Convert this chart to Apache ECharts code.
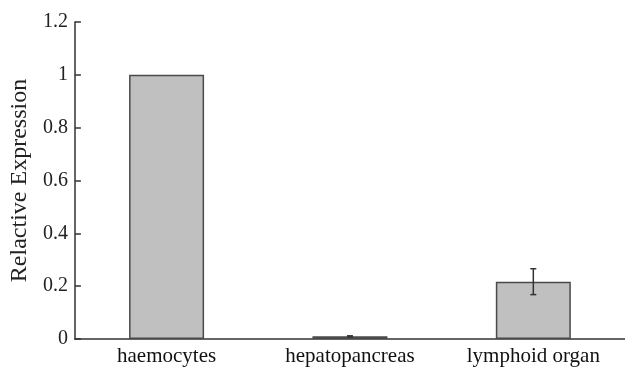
<!DOCTYPE html>
<html><head><meta charset="utf-8">
<script src="https://cdn.jsdelivr.net/npm/echarts@6/dist/echarts.min.js"></script>
<style>html,body{margin:0;padding:0;background:#fff}#c{width:625px;height:367px}</style>
</head><body><div id="c"></div>
<script>
var categories = ['haemocytes', 'hepatopancreas', 'lymphoid organ'];
var values = [1.0, 0.01, 0.217];
var errors = [0, 0.002, 0.049];
var yTicks = [0, 0.2, 0.4, 0.6, 0.8, 1, 1.2];

var chart = echarts.init(document.getElementById('c'));
var font = '"Liberation Serif", "Times New Roman", serif';
chart.setOption({
  animation: false,
  grid: { left: 73, top: 22, width: 558, height: 317, containLabel: false },
  xAxis: {
    type: 'category', data: categories,
    axisLine: { lineStyle: { color: '#333', width: 1.5 } },
    axisTick: { inside: true, length: 6, alignWithLabel: false, lineStyle: { color: '#333', width: 1.5 } },
    axisLabel: { color: '#111', fontFamily: font, fontSize: 21, margin: 7 }
  },
  yAxis: {
    type: 'value', min: 0, max: 1.2, interval: 0.2,
    name: 'Relactive Expression', nameLocation: 'middle', nameGap: 40,
    nameTextStyle: { color: '#222', fontFamily: font, fontSize: 24 },
    axisLine: { show: true, lineStyle: { color: '#333', width: 1.5 } },
    axisTick: { show: true, inside: true, length: 6, lineStyle: { color: '#333', width: 1.5 } },
    splitLine: { show: false },
    axisLabel: { color: '#222', fontFamily: font, fontSize: 20, margin: 7,
      formatter: function (v) { return String(Math.round(v * 10) / 10); } }
  },
  series: [{
    type: 'bar', data: values, barWidth: 75,
    itemStyle: { color: '#c0c0c0', borderColor: '#4a4a4a', borderWidth: 1.5 }
  }, {
    type: 'custom',
    data: values.map(function (v, i) { return [i, v - errors[i], v + errors[i], errors[i]]; }),
    renderItem: function (params, api) {
      if (!api.value(3)) return null;
      var lo = api.coord([api.value(0), api.value(1)]);
      var hi = api.coord([api.value(0), api.value(2)]);
      var hw = 3;
      var st = { stroke: '#333', lineWidth: 1.5 };
      return { type: 'group', children: [
        { type: 'line', shape: { x1: hi[0], y1: hi[1], x2: lo[0], y2: lo[1] }, style: st },
        { type: 'line', shape: { x1: hi[0] - hw, y1: hi[1], x2: hi[0] + hw, y2: hi[1] }, style: st },
        { type: 'line', shape: { x1: lo[0] - hw, y1: lo[1], x2: lo[0] + hw, y2: lo[1] }, style: st }
      ]};
    },
    z: 10
  }]
});
</script></body></html>
